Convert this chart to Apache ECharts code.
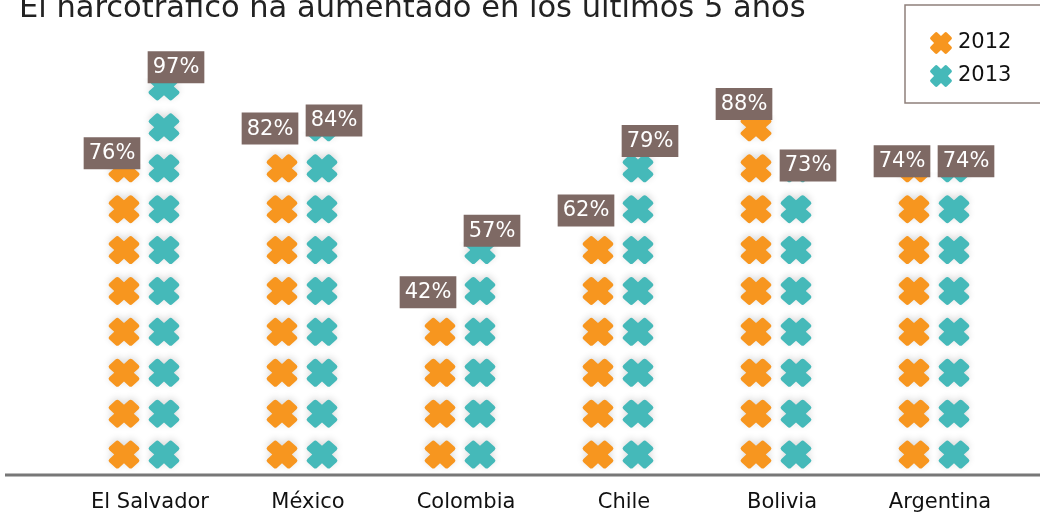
<!DOCTYPE html>
<html><head><meta charset="utf-8">
<script src="https://cdn.jsdelivr.net/npm/echarts@6/dist/echarts.min.js"></script>
<style>html,body{margin:0;padding:0;background:#fff}#c{width:1040px;height:518px}</style>
</head><body><div id="c"></div>
<script>
const titleText = 'El narcotráfico ha aumentado en los últimos 5 años';
const categories = ['El Salvador', 'México', 'Colombia', 'Chile', 'Bolivia', 'Argentina'];
const seriesNames = ['2012', '2013'];
const values2012 = [76, 82, 42, 62, 88, 74];
const values2013 = [97, 84, 57, 79, 73, 74];

const FONT = 'DejaVu Sans';
const xPath = 'path://M50,20.3 L64.64,5.66 Q70.3,0 75.96,5.66 L94.34,24.04 Q100,29.7 94.34,35.36 L79.7,50 ' +
  'L94.34,64.64 Q100,70.3 94.34,75.96 L75.96,94.34 Q70.3,100 64.64,94.34 L50,79.7 ' +
  'L35.36,94.34 Q29.7,100 24.04,94.34 L5.66,75.96 Q0,70.3 5.66,64.64 L20.3,50 ' +
  'L5.66,35.36 Q0,29.7 5.66,24.04 L24.04,5.66 Q29.7,0 35.36,5.66 Z';
const colors = ['#f7961f', '#45b9b9'];

function makeSymbols(name, data, color) {
  return {
    name: name,
    type: 'pictorialBar',
    data: data,
    symbol: xPath,
    symbolSize: [31, 28],
    symbolRepeat: 10,
    symbolMargin: '1!',
    symbolBoundingData: 100,
    symbolClip: true,
    barWidth: 40,
    barGap: '0%',
    itemStyle: {
      color: color,
      shadowColor: 'rgba(0,0,0,0.15)',
      shadowBlur: 7,
      shadowOffsetY: -2
    },
    z: 3
  };
}

function makeLabels(name, data, dx) {
  return {
    name: name,
    type: 'bar',
    data: data,
    barWidth: 40,
    barGap: '0%',
    itemStyle: {color: 'rgba(0,0,0,0)'},
    silent: true,
    label: {
      show: true,
      position: 'top',
      offset: [dx, 10],
      formatter: '{c}%',
      color: '#fff',
      fontFamily: FONT,
      fontSize: 21,
      backgroundColor: '#7e6964',
      padding: [6, 5, 5, 5]
    },
    z: 5
  };
}

const chart = echarts.init(document.getElementById('c'), null, {renderer: 'canvas'});
chart.setOption({
  animation: false,
  title: {
    text: titleText,
    left: 14,
    top: -11,
    textStyle: {fontFamily: FONT, fontSize: 30.5, fontWeight: 'normal', color: '#222'}
  },
  legend: {
    data: seriesNames.map((n, i) => ({name: n, icon: xPath, itemStyle: {color: colors[i], shadowBlur: 0}})),
    orient: 'vertical',
    left: 905,
    top: 5,
    padding: [27, 40, 16, 25],
    itemGap: 11,
    itemWidth: 24,
    itemHeight: 22,
    borderColor: '#8f807b',
    borderWidth: 1.5,
    textStyle: {fontFamily: FONT, fontSize: 21, color: '#111'}
  },
  grid: {left: 65, right: 27, top: 66, bottom: 43},
  xAxis: {
    type: 'category',
    data: categories,
    axisLine: {show: false},
    axisTick: {show: false},
    axisLabel: {interval: 0, fontFamily: FONT, fontSize: 21, color: '#111', margin: 17, padding: [0, 0, 0, 12]}
  },
  yAxis: {type: 'value', min: 0, max: 100, show: false},
  graphic: [{
    type: 'line',
    shape: {x1: 5, y1: 475, x2: 1040, y2: 475},
    style: {stroke: '#777', lineWidth: 3},
    z: 1
  }],
  series: [
    makeSymbols(seriesNames[0], values2012, colors[0]),
    makeSymbols(seriesNames[1], values2013, colors[1]),
    makeLabels(seriesNames[0], values2012, -12),
    makeLabels(seriesNames[1], values2013, 12)
  ]
});
</script></body></html>
